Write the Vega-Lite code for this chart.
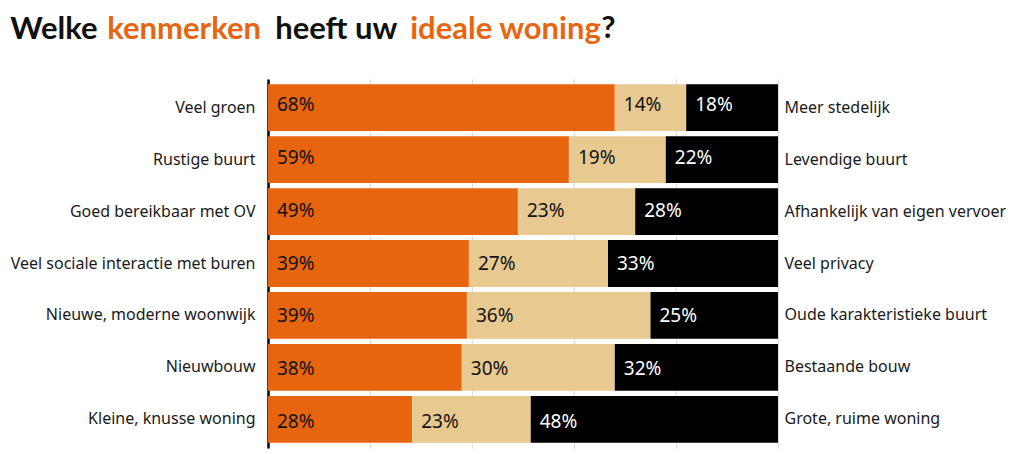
{
  "$schema": "https://vega.github.io/schema/vega-lite/v6.json",
  "background": "white",
  "padding": {"left": 10, "top": 13, "right": 5, "bottom": 5},
  "config": {
    "view": {"stroke": null},
    "font": "Noto Sans",
    "title": {"fontSize": 31, "fontWeight": "bold", "font": "Lato", "anchor": "start", "frame": "bounds"}
  },
  "title": {"text": "Welke", "color": "#111111", "dx": 0, "offset": -33},
  "vconcat": [{
    "title": {"text": "kenmerken", "color": "#E8650F", "dx": 97, "offset": -33},
    "vconcat": [{
      "title": {"text": "heeft uw", "color": "#111111", "dx": 265, "offset": -33},
      "vconcat": [{
        "title": {"text": "ideale woning", "color": "#E8650F", "dx": 400, "offset": -33},
        "vconcat": [{
          "title": {"text": "?", "color": "#111111", "dx": 591, "offset": 34},
          "width": 510,
          "height": 369,
          "data": {
            "values": [
              {"rij": 1, "links": "Veel groen", "rechts": "Meer stedelijk", "deel": "links", "pct": 68},
              {"rij": 1, "links": "Veel groen", "rechts": "Meer stedelijk", "deel": "neutraal", "pct": 14},
              {"rij": 1, "links": "Veel groen", "rechts": "Meer stedelijk", "deel": "rechts", "pct": 18},
              {"rij": 2, "links": "Rustige buurt", "rechts": "Levendige buurt", "deel": "links", "pct": 59},
              {"rij": 2, "links": "Rustige buurt", "rechts": "Levendige buurt", "deel": "neutraal", "pct": 19},
              {"rij": 2, "links": "Rustige buurt", "rechts": "Levendige buurt", "deel": "rechts", "pct": 22},
              {"rij": 3, "links": "Goed bereikbaar met OV", "rechts": "Afhankelijk van eigen vervoer", "deel": "links", "pct": 49},
              {"rij": 3, "links": "Goed bereikbaar met OV", "rechts": "Afhankelijk van eigen vervoer", "deel": "neutraal", "pct": 23},
              {"rij": 3, "links": "Goed bereikbaar met OV", "rechts": "Afhankelijk van eigen vervoer", "deel": "rechts", "pct": 28},
              {"rij": 4, "links": "Veel sociale interactie met buren", "rechts": "Veel privacy", "deel": "links", "pct": 39},
              {"rij": 4, "links": "Veel sociale interactie met buren", "rechts": "Veel privacy", "deel": "neutraal", "pct": 27},
              {"rij": 4, "links": "Veel sociale interactie met buren", "rechts": "Veel privacy", "deel": "rechts", "pct": 33},
              {"rij": 5, "links": "Nieuwe, moderne woonwijk", "rechts": "Oude karakteristieke buurt", "deel": "links", "pct": 39},
              {"rij": 5, "links": "Nieuwe, moderne woonwijk", "rechts": "Oude karakteristieke buurt", "deel": "neutraal", "pct": 36},
              {"rij": 5, "links": "Nieuwe, moderne woonwijk", "rechts": "Oude karakteristieke buurt", "deel": "rechts", "pct": 25},
              {"rij": 6, "links": "Nieuwbouw", "rechts": "Bestaande bouw", "deel": "links", "pct": 38},
              {"rij": 6, "links": "Nieuwbouw", "rechts": "Bestaande bouw", "deel": "neutraal", "pct": 30},
              {"rij": 6, "links": "Nieuwbouw", "rechts": "Bestaande bouw", "deel": "rechts", "pct": 32},
              {"rij": 7, "links": "Kleine, knusse woning", "rechts": "Grote, ruime woning", "deel": "links", "pct": 28},
              {"rij": 7, "links": "Kleine, knusse woning", "rechts": "Grote, ruime woning", "deel": "neutraal", "pct": 23},
              {"rij": 7, "links": "Kleine, knusse woning", "rechts": "Grote, ruime woning", "deel": "rechts", "pct": 48}
            ]
          },
          "transform": [
            {"stack": "pct", "groupby": ["links"], "sort": [{"field": "deel", "order": "ascending"}], "offset": "normalize", "as": ["start", "eind"]},
            {"calculate": "datum.pct + '%'", "as": "label"}
          ],
          "layer": [
            {
              "transform": [{"filter": "datum.deel !== 'rechts'"}],
              "mark": {"type": "bar"},
              "encoding": {
                "y": {
                  "field": "links", "type": "nominal", "sort": {"field": "rij", "op": "min"},
                  "scale": {"paddingInner": 0.1, "paddingOuter": 0.1},
                  "axis": {"orient": "left", "title": null, "ticks": false, "domain": true, "domainColor": "#000000", "domainWidth": 2.5, "labelFontSize": 16, "labelColor": "#1a1a1a", "labelPadding": 13, "labelLimit": 300}
                },
                "x": {
                  "field": "start", "type": "quantitative", "scale": {"domain": [0, 1]},
                  "axis": {"title": null, "labels": false, "ticks": false, "domain": false, "grid": true, "gridColor": "#dddddd", "values": [0, 0.2, 0.4, 0.6, 0.8, 1]}
                },
                "x2": {"field": "eind"},
                "color": {"field": "deel", "type": "nominal", "scale": {"domain": ["links", "neutraal", "rechts"], "range": ["#E8650F", "#E8C990", "#000000"]}, "legend": null}
              }
            },
            {
              "transform": [{"filter": "datum.deel === 'rechts'"}],
              "mark": {"type": "bar"},
              "encoding": {
                "y": {
                  "field": "rechts", "type": "nominal", "sort": {"field": "rij", "op": "min"},
                  "scale": {"paddingInner": 0.1, "paddingOuter": 0.1},
                  "axis": {"orient": "right", "title": null, "ticks": false, "domain": false, "labelFontSize": 16, "labelColor": "#1a1a1a", "labelPadding": 6, "labelLimit": 300}
                },
                "x": {"field": "start", "type": "quantitative"},
                "x2": {"field": "eind"},
                "color": {"field": "deel", "type": "nominal", "legend": null}
              }
            },
            {
              "mark": {"type": "text", "align": "left", "baseline": "middle", "dx": 9, "fontSize": 19},
              "encoding": {
                "y": {"field": "links", "type": "nominal", "sort": {"field": "rij", "op": "min"}, "scale": {"paddingInner": 0.1, "paddingOuter": 0.1}, "axis": null},
                "x": {"field": "start", "type": "quantitative"},
                "text": {"field": "label"},
                "color": {"condition": {"test": "datum.deel === 'rechts'", "value": "#ffffff"}, "value": "#111111"}
              }
            }
          ],
          "resolve": {"scale": {"y": "independent", "color": "shared"}, "axis": {"y": "independent"}}
        }]
      }]
    }]
  }]
}
